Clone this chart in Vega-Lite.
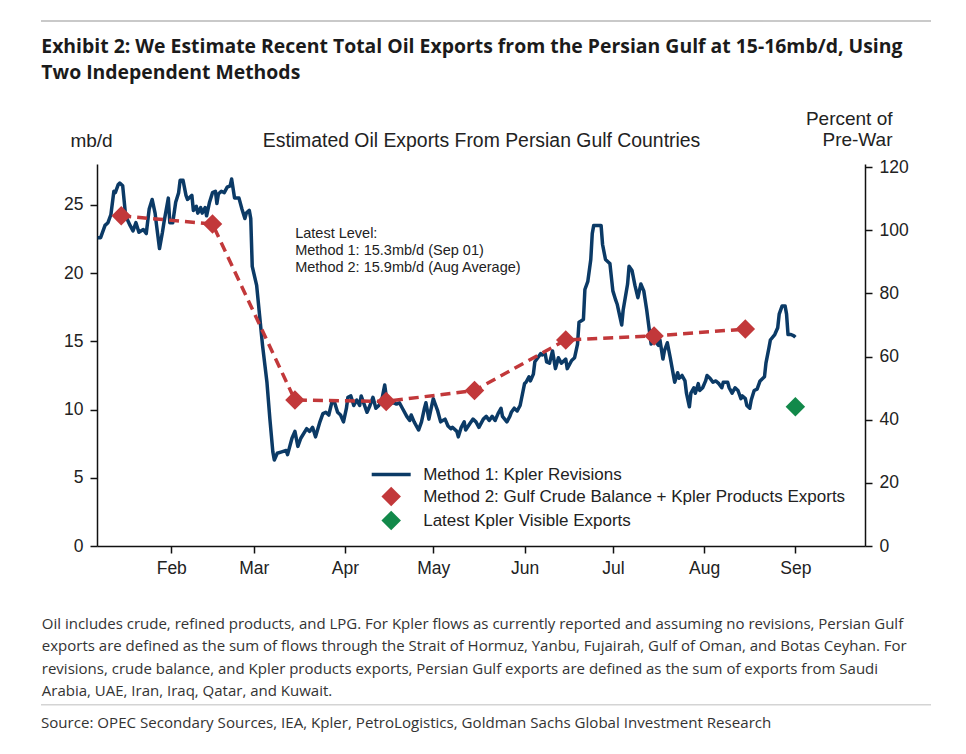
{
  "$schema": "https://vega.github.io/schema/vega-lite/v6.json",
  "background": "white",
  "padding": {"left": 40, "top": 20, "right": 10, "bottom": 10},
  "spacing": 5,
  "config": {
    "font": "Liberation Sans",
    "view": {"stroke": null},
    "axis": {
      "grid": false,
      "domainColor": "#111111",
      "domainWidth": 1.5,
      "tickColor": "#111111",
      "tickWidth": 1.5,
      "tickSize": 7,
      "labelFont": "Liberation Sans",
      "labelFontSize": 17.5,
      "labelColor": "#222222",
      "labelPadding": 7,
      "titleFont": "Liberation Sans",
      "titleFontSize": 19,
      "titleFontWeight": "normal",
      "titleColor": "#222222"
    },
    "legend": {
      "orient": "none",
      "legendX": 341.7,
      "legendY": 445,
      "padding": 0,
      "labelFont": "Liberation Sans",
      "labelFontSize": 17,
      "labelColor": "#222222",
      "labelOffset": 23.5,
      "labelLimit": 600,
      "rowPadding": 3,
      "symbolSize": 380,
      "symbolOpacity": 1
    }
  },
  "vconcat": [
    {
      "width": 890,
      "height": 10,
      "data": {"values": []},
      "mark": "point",
      "view": {"fill": null, "stroke": "#b8b8b8", "strokeWidth": 1.5, "strokeDash": [890, 3000]}
    },
    {
      "spacing": -1,
      "hconcat": [
        {
          "width": 1,
          "height": 1,
          "data": {"values": []},
          "mark": "point"
        },
        {
          "width": 768,
          "height": 382,
          "title": {
            "text": ["Exhibit 2: We Estimate Recent Total Oil Exports from the Persian Gulf at 15-16mb/d, Using", "Two Independent Methods"],
            "anchor": "start",
            "frame": "group",
            "dx": -55.7,
            "offset": 26,
            "font": "Open Sans",
            "fontSize": 19.4,
            "fontWeight": "bold",
            "color": "#1b1b1b",
            "lineHeight": 25.5
          },
          "layer": [
            {
              "layer": [
                {
                  "data": {"values": [
                    {"date": "2026-01-07T00:00", "value": 22.6}, {"date": "2026-01-08T00:00", "value": 22.6},
                    {"date": "2026-01-09T12:00", "value": 23.5}, {"date": "2026-01-10T12:00", "value": 23.7},
                    {"date": "2026-01-11T12:00", "value": 24.3}, {"date": "2026-01-12T12:00", "value": 26.0},
                    {"date": "2026-01-13T00:00", "value": 25.9}, {"date": "2026-01-14T00:00", "value": 26.5},
                    {"date": "2026-01-14T12:00", "value": 26.6}, {"date": "2026-01-15T12:00", "value": 26.4},
                    {"date": "2026-01-16T12:00", "value": 24.2}, {"date": "2026-01-18T00:00", "value": 23.5},
                    {"date": "2026-01-19T00:00", "value": 23.1}, {"date": "2026-01-20T00:00", "value": 23.7},
                    {"date": "2026-01-21T00:00", "value": 23.0}, {"date": "2026-01-22T12:00", "value": 23.2},
                    {"date": "2026-01-23T12:00", "value": 22.9}, {"date": "2026-01-24T12:00", "value": 24.7},
                    {"date": "2026-01-25T12:00", "value": 25.4}, {"date": "2026-01-26T12:00", "value": 24.4},
                    {"date": "2026-01-27T00:00", "value": 23.5}, {"date": "2026-01-28T00:00", "value": 21.8},
                    {"date": "2026-01-29T00:00", "value": 23.0}, {"date": "2026-01-29T12:00", "value": 23.7},
                    {"date": "2026-01-31T00:00", "value": 25.5}, {"date": "2026-01-31T12:00", "value": 23.7},
                    {"date": "2026-02-01T12:00", "value": 23.7}, {"date": "2026-02-02T12:00", "value": 25.2},
                    {"date": "2026-02-03T12:00", "value": 25.9}, {"date": "2026-02-04T00:00", "value": 26.8},
                    {"date": "2026-02-05T00:00", "value": 26.8}, {"date": "2026-02-06T00:00", "value": 25.7},
                    {"date": "2026-02-06T12:00", "value": 25.4}, {"date": "2026-02-08T00:00", "value": 25.7},
                    {"date": "2026-02-08T12:00", "value": 24.6}, {"date": "2026-02-09T12:00", "value": 24.9},
                    {"date": "2026-02-10T00:00", "value": 24.4}, {"date": "2026-02-11T00:00", "value": 24.8},
                    {"date": "2026-02-11T12:00", "value": 24.4}, {"date": "2026-02-12T12:00", "value": 24.8},
                    {"date": "2026-02-13T00:00", "value": 24.2}, {"date": "2026-02-14T00:00", "value": 25.2},
                    {"date": "2026-02-15T00:00", "value": 25.9}, {"date": "2026-02-16T00:00", "value": 26.0},
                    {"date": "2026-02-16T12:00", "value": 25.1}, {"date": "2026-02-17T00:00", "value": 25.8},
                    {"date": "2026-02-18T00:00", "value": 26.0}, {"date": "2026-02-19T00:00", "value": 25.9},
                    {"date": "2026-02-20T00:00", "value": 26.3}, {"date": "2026-02-21T00:00", "value": 26.4},
                    {"date": "2026-02-21T12:00", "value": 26.9}, {"date": "2026-02-22T12:00", "value": 25.5},
                    {"date": "2026-02-24T00:00", "value": 25.5}, {"date": "2026-02-25T00:00", "value": 24.7},
                    {"date": "2026-02-26T00:00", "value": 24.0}, {"date": "2026-02-26T12:00", "value": 24.4},
                    {"date": "2026-02-27T12:00", "value": 24.6}, {"date": "2026-02-28T00:00", "value": 24.0},
                    {"date": "2026-02-28T12:00", "value": 20.5}, {"date": "2026-03-02T00:00", "value": 19.1},
                    {"date": "2026-03-03T00:00", "value": 16.9}, {"date": "2026-03-04T00:00", "value": 14.7},
                    {"date": "2026-03-05T12:00", "value": 12.0}, {"date": "2026-03-06T12:00", "value": 9.3},
                    {"date": "2026-03-07T12:00", "value": 6.9}, {"date": "2026-03-08T00:00", "value": 6.3},
                    {"date": "2026-03-09T00:00", "value": 6.8}, {"date": "2026-03-10T12:00", "value": 6.9},
                    {"date": "2026-03-12T00:00", "value": 7.0}, {"date": "2026-03-12T12:00", "value": 6.7},
                    {"date": "2026-03-14T00:00", "value": 7.9}, {"date": "2026-03-15T00:00", "value": 8.4},
                    {"date": "2026-03-16T00:00", "value": 7.3}, {"date": "2026-03-17T00:00", "value": 7.9},
                    {"date": "2026-03-19T00:00", "value": 8.6}, {"date": "2026-03-20T00:00", "value": 8.4},
                    {"date": "2026-03-21T00:00", "value": 8.7}, {"date": "2026-03-22T00:00", "value": 8.0},
                    {"date": "2026-03-23T12:00", "value": 9.1}, {"date": "2026-03-24T12:00", "value": 9.7},
                    {"date": "2026-03-25T12:00", "value": 9.8}, {"date": "2026-03-26T12:00", "value": 9.6},
                    {"date": "2026-03-27T12:00", "value": 10.5}, {"date": "2026-03-28T12:00", "value": 10.5},
                    {"date": "2026-03-29T12:00", "value": 9.8}, {"date": "2026-03-30T12:00", "value": 9.6},
                    {"date": "2026-03-31T12:00", "value": 9.1}, {"date": "2026-04-01T12:00", "value": 10.1},
                    {"date": "2026-04-02T00:00", "value": 10.9}, {"date": "2026-04-03T00:00", "value": 11.0},
                    {"date": "2026-04-04T00:00", "value": 10.3}, {"date": "2026-04-05T00:00", "value": 10.7},
                    {"date": "2026-04-06T00:00", "value": 10.3}, {"date": "2026-04-06T12:00", "value": 11.0},
                    {"date": "2026-04-07T12:00", "value": 10.4}, {"date": "2026-04-08T12:00", "value": 9.8},
                    {"date": "2026-04-09T12:00", "value": 10.3}, {"date": "2026-04-10T12:00", "value": 10.9},
                    {"date": "2026-04-11T12:00", "value": 10.1}, {"date": "2026-04-12T12:00", "value": 10.3},
                    {"date": "2026-04-13T12:00", "value": 10.7}, {"date": "2026-04-14T12:00", "value": 11.8},
                    {"date": "2026-04-15T00:00", "value": 11.0}, {"date": "2026-04-16T00:00", "value": 10.4},
                    {"date": "2026-04-17T12:00", "value": 10.5}, {"date": "2026-04-18T12:00", "value": 10.4},
                    {"date": "2026-04-19T12:00", "value": 10.5}, {"date": "2026-04-20T12:00", "value": 10.1},
                    {"date": "2026-04-22T00:00", "value": 9.5}, {"date": "2026-04-23T00:00", "value": 9.2},
                    {"date": "2026-04-23T12:00", "value": 9.6}, {"date": "2026-04-24T12:00", "value": 9.1},
                    {"date": "2026-04-26T00:00", "value": 8.5}, {"date": "2026-04-27T00:00", "value": 9.1},
                    {"date": "2026-04-28T00:00", "value": 10.1}, {"date": "2026-04-28T12:00", "value": 10.5},
                    {"date": "2026-04-29T12:00", "value": 9.3}, {"date": "2026-04-30T12:00", "value": 10.3},
                    {"date": "2026-05-01T00:00", "value": 10.8}, {"date": "2026-05-01T12:00", "value": 10.5},
                    {"date": "2026-05-02T12:00", "value": 9.9}, {"date": "2026-05-03T12:00", "value": 9.1},
                    {"date": "2026-05-05T00:00", "value": 9.3}, {"date": "2026-05-06T00:00", "value": 8.8},
                    {"date": "2026-05-07T00:00", "value": 8.6}, {"date": "2026-05-07T12:00", "value": 8.7},
                    {"date": "2026-05-09T00:00", "value": 8.4}, {"date": "2026-05-09T12:00", "value": 8.0},
                    {"date": "2026-05-10T12:00", "value": 8.7}, {"date": "2026-05-11T12:00", "value": 9.1},
                    {"date": "2026-05-12T00:00", "value": 8.5}, {"date": "2026-05-13T12:00", "value": 9.0},
                    {"date": "2026-05-14T12:00", "value": 9.3}, {"date": "2026-05-15T12:00", "value": 9.1},
                    {"date": "2026-05-16T12:00", "value": 8.7}, {"date": "2026-05-18T00:00", "value": 9.3},
                    {"date": "2026-05-19T00:00", "value": 9.5}, {"date": "2026-05-20T00:00", "value": 9.2},
                    {"date": "2026-05-21T00:00", "value": 9.5}, {"date": "2026-05-22T00:00", "value": 9.2},
                    {"date": "2026-05-23T00:00", "value": 9.7}, {"date": "2026-05-24T00:00", "value": 10.1},
                    {"date": "2026-05-24T12:00", "value": 9.5}, {"date": "2026-05-26T00:00", "value": 9.1},
                    {"date": "2026-05-27T00:00", "value": 9.5}, {"date": "2026-05-27T12:00", "value": 9.8},
                    {"date": "2026-05-28T12:00", "value": 10.1}, {"date": "2026-05-29T12:00", "value": 9.9},
                    {"date": "2026-05-30T12:00", "value": 10.3}, {"date": "2026-06-01T00:00", "value": 11.9},
                    {"date": "2026-06-01T12:00", "value": 12.0}, {"date": "2026-06-02T12:00", "value": 12.4},
                    {"date": "2026-06-03T00:00", "value": 12.1}, {"date": "2026-06-04T00:00", "value": 12.6},
                    {"date": "2026-06-04T12:00", "value": 13.5}, {"date": "2026-06-05T12:00", "value": 13.8},
                    {"date": "2026-06-06T12:00", "value": 14.1}, {"date": "2026-06-07T00:00", "value": 14.0},
                    {"date": "2026-06-08T00:00", "value": 14.1}, {"date": "2026-06-08T12:00", "value": 13.5},
                    {"date": "2026-06-09T12:00", "value": 13.4}, {"date": "2026-06-10T12:00", "value": 14.3},
                    {"date": "2026-06-11T12:00", "value": 13.0}, {"date": "2026-06-12T12:00", "value": 13.8},
                    {"date": "2026-06-13T12:00", "value": 13.4}, {"date": "2026-06-15T00:00", "value": 13.7},
                    {"date": "2026-06-15T12:00", "value": 13.0}, {"date": "2026-06-17T00:00", "value": 13.6},
                    {"date": "2026-06-18T00:00", "value": 13.8}, {"date": "2026-06-19T00:00", "value": 14.8},
                    {"date": "2026-06-19T12:00", "value": 16.4}, {"date": "2026-06-21T00:00", "value": 16.6},
                    {"date": "2026-06-21T12:00", "value": 18.8}, {"date": "2026-06-22T12:00", "value": 19.4},
                    {"date": "2026-06-23T12:00", "value": 21.0}, {"date": "2026-06-24T00:00", "value": 22.9},
                    {"date": "2026-06-24T12:00", "value": 23.5}, {"date": "2026-06-26T00:00", "value": 23.5},
                    {"date": "2026-06-27T00:00", "value": 23.5}, {"date": "2026-06-27T12:00", "value": 22.1},
                    {"date": "2026-06-28T12:00", "value": 21.0}, {"date": "2026-06-29T12:00", "value": 20.8},
                    {"date": "2026-06-30T00:00", "value": 20.7}, {"date": "2026-07-01T00:00", "value": 18.7},
                    {"date": "2026-07-02T00:00", "value": 18.0}, {"date": "2026-07-02T12:00", "value": 17.7},
                    {"date": "2026-07-04T00:00", "value": 16.2}, {"date": "2026-07-04T12:00", "value": 17.3},
                    {"date": "2026-07-06T00:00", "value": 19.2}, {"date": "2026-07-06T12:00", "value": 20.5},
                    {"date": "2026-07-07T12:00", "value": 20.2}, {"date": "2026-07-08T12:00", "value": 19.1},
                    {"date": "2026-07-09T12:00", "value": 18.2}, {"date": "2026-07-10T12:00", "value": 19.2},
                    {"date": "2026-07-11T12:00", "value": 18.7}, {"date": "2026-07-12T12:00", "value": 17.3},
                    {"date": "2026-07-14T00:00", "value": 14.8}, {"date": "2026-07-15T00:00", "value": 15.1},
                    {"date": "2026-07-16T12:00", "value": 14.7}, {"date": "2026-07-17T00:00", "value": 15.1},
                    {"date": "2026-07-18T00:00", "value": 13.7}, {"date": "2026-07-18T12:00", "value": 14.3},
                    {"date": "2026-07-19T12:00", "value": 14.9}, {"date": "2026-07-20T12:00", "value": 13.8},
                    {"date": "2026-07-21T12:00", "value": 12.6}, {"date": "2026-07-22T00:00", "value": 12.0},
                    {"date": "2026-07-23T00:00", "value": 12.7}, {"date": "2026-07-23T12:00", "value": 12.3},
                    {"date": "2026-07-24T12:00", "value": 12.5}, {"date": "2026-07-25T12:00", "value": 12.1},
                    {"date": "2026-07-26T00:00", "value": 11.2}, {"date": "2026-07-27T00:00", "value": 10.2},
                    {"date": "2026-07-27T12:00", "value": 11.2}, {"date": "2026-07-28T12:00", "value": 11.6},
                    {"date": "2026-07-29T00:00", "value": 11.2}, {"date": "2026-07-30T00:00", "value": 11.9},
                    {"date": "2026-07-30T12:00", "value": 11.4}, {"date": "2026-07-31T12:00", "value": 11.6},
                    {"date": "2026-08-01T12:00", "value": 12.1}, {"date": "2026-08-02T00:00", "value": 12.5},
                    {"date": "2026-08-03T00:00", "value": 12.3}, {"date": "2026-08-04T00:00", "value": 12.0},
                    {"date": "2026-08-05T00:00", "value": 12.1}, {"date": "2026-08-06T00:00", "value": 11.9},
                    {"date": "2026-08-07T00:00", "value": 11.6}, {"date": "2026-08-07T12:00", "value": 12.0},
                    {"date": "2026-08-09T00:00", "value": 12.0}, {"date": "2026-08-09T12:00", "value": 11.6},
                    {"date": "2026-08-10T12:00", "value": 11.2}, {"date": "2026-08-11T12:00", "value": 11.6},
                    {"date": "2026-08-12T12:00", "value": 11.4}, {"date": "2026-08-13T12:00", "value": 10.8},
                    {"date": "2026-08-14T00:00", "value": 11.0}, {"date": "2026-08-15T00:00", "value": 10.8},
                    {"date": "2026-08-15T12:00", "value": 10.3}, {"date": "2026-08-16T12:00", "value": 10.1},
                    {"date": "2026-08-17T00:00", "value": 10.7}, {"date": "2026-08-18T00:00", "value": 11.4},
                    {"date": "2026-08-19T00:00", "value": 11.5}, {"date": "2026-08-20T00:00", "value": 12.1},
                    {"date": "2026-08-21T12:00", "value": 12.4}, {"date": "2026-08-22T00:00", "value": 13.4},
                    {"date": "2026-08-23T00:00", "value": 14.5}, {"date": "2026-08-23T12:00", "value": 15.1},
                    {"date": "2026-08-25T00:00", "value": 15.5}, {"date": "2026-08-26T00:00", "value": 16.0},
                    {"date": "2026-08-26T12:00", "value": 17.0}, {"date": "2026-08-27T12:00", "value": 17.6},
                    {"date": "2026-08-28T12:00", "value": 17.6}, {"date": "2026-08-29T00:00", "value": 17.0},
                    {"date": "2026-08-29T12:00", "value": 15.5}, {"date": "2026-08-30T12:00", "value": 15.5},
                    {"date": "2026-08-31T12:00", "value": 15.4}, {"date": "2026-09-01T00:00", "value": 15.3}
                  ]},
                  "mark": {"type": "line", "color": "#0b3a66", "strokeWidth": 3.5, "strokeJoin": "round"},
                  "encoding": {
                    "x": {
                      "field": "date",
                      "type": "temporal",
                      "scale": {"domain": [
                        {"year": 2026, "month": 1, "date": 6, "hours": 18, "minutes": 30},
                        {"year": 2026, "month": 9, "date": 24, "hours": 15, "minutes": 30}
                      ]},
                      "axis": {
                        "orient": "bottom",
                        "format": "%b",
                        "tickCount": {"interval": "month", "step": 1},
                        "labelFlush": false,
                        "labelOverlap": false,
                        "labelPadding": 6,
                        "title": [
                          "Oil includes crude, refined products, and LPG. For Kpler flows as currently reported and assuming no revisions, Persian Gulf",
                          "exports are defined as the sum of flows through the Strait of Hormuz, Yanbu, Fujairah, Gulf of Oman, and Botas Ceyhan. For",
                          "revisions, crude balance, and Kpler products exports, Persian Gulf exports are defined as the sum of exports from Saudi",
                          "Arabia, UAE, Iran, Iraq, Qatar, and Kuwait."
                        ],
                        "titleFont": "Open Sans",
                        "titleFontSize": 15,
                        "titleColor": "#333333",
                        "titleAngle": 0,
                        "titleAlign": "left",
                        "titleBaseline": "alphabetic",
                        "titleX": -55.7,
                        "titleY": 82.7,
                        "titleLineHeight": 22.2
                      }
                    },
                    "y": {
                      "field": "value",
                      "type": "quantitative",
                      "scale": {"domain": [0, 28], "nice": false, "zero": false},
                      "axis": {
                        "orient": "left",
                        "values": [0, 5, 10, 15, 20, 25],
                        "title": "mb/d",
                        "titleAngle": 0,
                        "titleAlign": "center",
                        "titleBaseline": "alphabetic",
                        "titleX": -6,
                        "titleY": -18
                      }
                    }
                  }
                },
                {
                  "data": {"values": [
                    {"date": "2026-01-15T00:00", "value": 24.2}, {"date": "2026-02-15T00:00", "value": 23.6},
                    {"date": "2026-03-15T00:00", "value": 10.7}, {"date": "2026-04-15T00:00", "value": 10.6},
                    {"date": "2026-05-15T00:00", "value": 11.4}, {"date": "2026-06-15T00:00", "value": 15.1},
                    {"date": "2026-07-15T00:00", "value": 15.4}, {"date": "2026-08-15T00:00", "value": 15.9}
                  ]},
                  "mark": {"type": "line", "color": "#c2383a", "strokeWidth": 3.5, "strokeDash": [10, 6]},
                  "encoding": {
                    "x": {"field": "date", "type": "temporal"},
                    "y": {"field": "value", "type": "quantitative"}
                  }
                },
                {
                  "data": {"values": [
                    {"date": "2026-01-15T00:00", "value": 24.2, "series": "Method 2: Gulf Crude Balance + Kpler Products Exports"},
                    {"date": "2026-02-15T00:00", "value": 23.6, "series": "Method 2: Gulf Crude Balance + Kpler Products Exports"},
                    {"date": "2026-03-15T00:00", "value": 10.7, "series": "Method 2: Gulf Crude Balance + Kpler Products Exports"},
                    {"date": "2026-04-15T00:00", "value": 10.6, "series": "Method 2: Gulf Crude Balance + Kpler Products Exports"},
                    {"date": "2026-05-15T00:00", "value": 11.4, "series": "Method 2: Gulf Crude Balance + Kpler Products Exports"},
                    {"date": "2026-06-15T00:00", "value": 15.1, "series": "Method 2: Gulf Crude Balance + Kpler Products Exports"},
                    {"date": "2026-07-15T00:00", "value": 15.4, "series": "Method 2: Gulf Crude Balance + Kpler Products Exports"},
                    {"date": "2026-08-15T00:00", "value": 15.9, "series": "Method 2: Gulf Crude Balance + Kpler Products Exports"},
                    {"date": "2026-09-01T00:00", "value": 10.2, "series": "Latest Kpler Visible Exports"}
                  ]},
                  "mark": {"type": "point", "filled": true, "opacity": 1, "size": 380},
                  "encoding": {
                    "x": {"field": "date", "type": "temporal"},
                    "y": {"field": "value", "type": "quantitative"},
                    "color": {
                      "field": "series",
                      "type": "nominal",
                      "scale": {
                        "domain": ["Method 1: Kpler Revisions", "Method 2: Gulf Crude Balance + Kpler Products Exports", "Latest Kpler Visible Exports"],
                        "range": ["#0b3a66", "#c2383a", "#12894a"]
                      },
                      "legend": {
                        "title": null,
                        "encode": {
                          "symbols": {
                            "update": {
                              "stroke": {"value": "#0b3a66"},
                              "strokeWidth": {"signal": "datum.value === 'Method 1: Kpler Revisions' ? 3.5 : 0"}
                            }
                          }
                        }
                      }
                    },
                    "shape": {
                      "field": "series",
                      "type": "nominal",
                      "scale": {
                        "domain": ["Method 1: Kpler Revisions", "Method 2: Gulf Crude Balance + Kpler Products Exports", "Latest Kpler Visible Exports"],
                        "range": ["M-2,0L2,0", "diamond", "diamond"]
                      },
                      "legend": {"title": null}
                    }
                  }
                },
                {
                  "data": {"values": [
                    {"date": "2026-03-15T02:00", "value": 22.6, "note": "Latest Level:\nMethod 1: 15.3mb/d (Sep 01)\nMethod 2: 15.9mb/d (Aug Average)"}
                  ]},
                  "mark": {"type": "text", "align": "left", "baseline": "alphabetic", "lineBreak": "\n", "fontSize": 14.5, "lineHeight": 17, "color": "#222222"},
                  "encoding": {
                    "x": {"field": "date", "type": "temporal"},
                    "y": {"field": "value", "type": "quantitative"},
                    "text": {"field": "note"}
                  }
                }
              ]
            },
            {
              "data": {"values": [{"date": "2026-05-16T00:00", "pct": 0}]},
              "mark": {"type": "point", "opacity": 0},
              "encoding": {
                "x": {
                  "field": "date",
                  "type": "temporal",
                  "axis": {
                    "orient": "top",
                    "domain": false,
                    "ticks": false,
                    "labels": false,
                    "title": "Estimated Oil Exports From Persian Gulf Countries",
                    "titleFontSize": 19.4,
                    "titleAlign": "center",
                    "titleBaseline": "alphabetic",
                    "titleX": 384,
                    "titleY": -18
                  }
                },
                "y": {
                  "field": "pct",
                  "type": "quantitative",
                  "scale": {"domain": [0, 121], "nice": false, "zero": false},
                  "axis": {
                    "orient": "right",
                    "values": [0, 20, 40, 60, 80, 100, 120],
                    "title": ["Percent of", "Pre-War"],
                    "titleAngle": 0,
                    "titleAlign": "right",
                    "titleBaseline": "alphabetic",
                    "titleX": 27,
                    "titleY": -40,
                    "titleLineHeight": 21
                  }
                }
              }
            }
          ],
          "resolve": {"scale": {"y": "independent"}, "axis": {"x": "independent", "y": "independent"}}
        }
      ]
    },
    {
      "width": 890,
      "height": 1.5,
      "data": {"values": []},
      "mark": "point",
      "view": {"fill": "#d4d4d4", "stroke": null},
      "title": {
        "text": "Source: OPEC Secondary Sources, IEA, Kpler, PetroLogistics, Goldman Sachs Global Investment Research",
        "orient": "bottom",
        "anchor": "start",
        "frame": "group",
        "offset": 10,
        "font": "Open Sans",
        "fontSize": 15.1,
        "fontWeight": "normal",
        "color": "#333333"
      }
    }
  ]
}
